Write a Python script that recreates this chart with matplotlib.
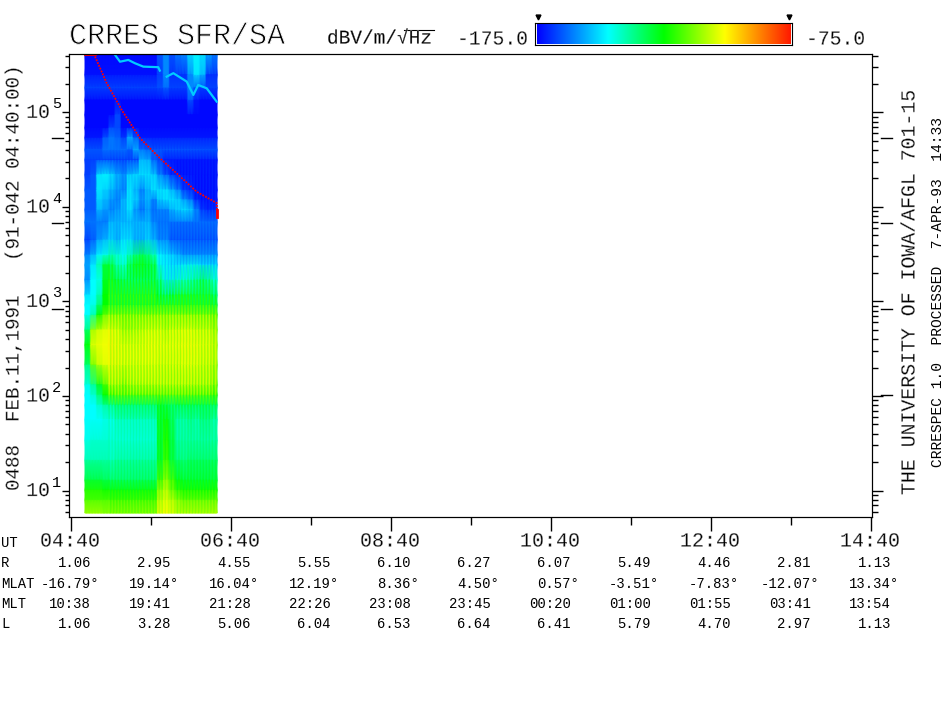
import numpy as np
import matplotlib
matplotlib.use("Agg")
import matplotlib.pyplot as plt
from matplotlib.colors import LinearSegmentedColormap
from matplotlib.lines import Line2D
from matplotlib.ticker import FixedLocator, LogLocator, NullFormatter
import matplotlib.patheffects as pe

plt.rcParams['font.family'] = ['Liberation Mono', 'DejaVu Sans']

W, H = 945, 720

# frequency of each spectrogram row, Hz, top to bottom
freqs = [4.1e5, 2.49e5, 1.82e5, 1.35e5, 9.4e4, 6.85e4, 5.37e4, 4.01e4, 3.14e4, 2.18e4, 1.51e4,
         1.19e4, 9.3e3, 6.9e3, 4.48e3, 3.1e3, 2.43e3, 1.69e3, 1.17e3, 918, 720, 499, 346, 213,
         131, 102, 80, 56, 34, 21, 12.9, 10.1, 7.9, 5.78]

# spectral density in dB, one row per frequency, 22 time blocks
spec_db = [
    [-174,-174,-174,-174,-174,-174,-174,-174,-174,-174,-174,-174,-165,-160,-165,-160,-158,-150,-148,-150,-155,-160],
    [-173,-173,-173,-173,-173,-173,-173,-173,-173,-173,-173,-173,-168,-160,-170,-170,-170,-160,-150,-155,-170,-170],
    [-167,-167,-167,-167,-167,-167,-167,-167,-167,-167,-167,-167,-166,-163,-167,-167,-167,-160,-165,-167,-167,-167],
    [-174,-174,-174,-174,-174,-174,-174,-174,-174,-174,-174,-174,-174,-174,-174,-174,-174,-165,-172,-174,-174,-174],
    [-174,-174,-174,-174,-174,-167,-174,-174,-174,-174,-174,-174,-174,-174,-174,-174,-174,-174,-174,-174,-174,-174],
    [-174,-174,-174,-174,-167,-167,-174,-174,-174,-174,-174,-174,-174,-174,-174,-174,-174,-174,-174,-174,-174,-174],
    [-172,-172,-172,-165,-162,-164,-168,-155,-165,-172,-172,-172,-172,-172,-172,-172,-172,-172,-172,-172,-172,-172],
    [-165,-165,-165,-162,-162,-162,-162,-164,-155,-162,-164,-165,-165,-165,-165,-165,-165,-165,-165,-165,-165,-165],
    [-168,-168,-168,-168,-168,-168,-168,-168,-168,-155,-156,-165,-168,-172,-172,-172,-172,-172,-172,-172,-172,-172],
    [-168,-165,-150,-148,-150,-155,-158,-152,-150,-150,-150,-152,-160,-165,-170,-172,-172,-172,-172,-172,-172,-172],
    [-165,-165,-150,-152,-155,-158,-160,-150,-155,-160,-155,-150,-150,-150,-155,-160,-168,-170,-172,-172,-172,-172],
    [-165,-165,-152,-155,-158,-160,-155,-150,-152,-158,-155,-160,-152,-150,-150,-152,-158,-162,-170,-172,-172,-172],
    [-165,-165,-155,-158,-160,-158,-155,-150,-158,-162,-158,-162,-160,-160,-155,-152,-150,-152,-160,-168,-170,-170],
    [-162,-162,-162,-162,-155,-155,-155,-155,-155,-155,-155,-160,-162,-162,-162,-162,-162,-162,-162,-162,-162,-162],
    [-168,-165,-158,-155,-152,-155,-150,-150,-155,-155,-152,-155,-160,-160,-165,-165,-165,-165,-165,-165,-165,-165],
    [-160,-155,-148,-145,-140,-142,-145,-140,-135,-132,-135,-140,-148,-150,-152,-155,-158,-158,-158,-158,-158,-158],
    [-157,-150,-140,-130,-130,-138,-140,-130,-125,-125,-128,-130,-147,-148,-150,-150,-148,-147,-147,-150,-150,-150],
    [-160,-147,-145,-128,-125,-128,-130,-130,-130,-130,-130,-130,-135,-145,-145,-142,-140,-138,-135,-132,-135,-140],
    [-150,-147,-140,-125,-122,-122,-122,-122,-122,-122,-122,-122,-128,-130,-128,-125,-125,-125,-125,-125,-125,-130],
    [-147,-145,-135,-125,-122,-122,-122,-122,-122,-122,-122,-122,-122,-122,-122,-122,-122,-122,-122,-122,-122,-124],
    [-147,-140,-125,-116,-111,-111,-111,-111,-111,-111,-111,-111,-111,-111,-111,-111,-111,-111,-111,-111,-111,-112],
    [-135,-110,-106,-104,-103,-104,-108,-108,-107,-106,-105,-105,-105,-107,-105,-105,-104,-104,-105,-105,-105,-108],
    [-125,-104,-103,-102,-102,-103,-104,-104,-104,-104,-103,-103,-104,-104,-104,-104,-103,-103,-103,-104,-104,-106],
    [-135,-114,-107,-104,-103,-103,-104,-104,-104,-104,-104,-104,-105,-105,-105,-105,-104,-104,-104,-105,-105,-107],
    [-145,-138,-128,-118,-108,-108,-110,-108,-107,-107,-107,-107,-107,-107,-107,-107,-107,-107,-107,-107,-107,-110],
    [-147,-143,-135,-125,-116,-114,-114,-114,-114,-114,-114,-114,-114,-114,-114,-114,-114,-114,-114,-114,-114,-116],
    [-147,-147,-142,-138,-135,-132,-132,-132,-132,-132,-132,-132,-128,-130,-132,-130,-130,-130,-130,-130,-130,-130],
    [-147,-147,-147,-145,-143,-140,-140,-140,-140,-140,-140,-140,-128,-125,-132,-138,-138,-136,-138,-135,-135,-138],
    [-145,-143,-143,-143,-142,-142,-142,-142,-142,-142,-142,-142,-128,-122,-130,-138,-138,-138,-138,-138,-138,-138],
    [-140,-140,-140,-140,-140,-138,-138,-138,-138,-138,-138,-138,-128,-120,-130,-134,-135,-133,-133,-133,-133,-133],
    [-130,-130,-130,-132,-132,-132,-132,-132,-132,-132,-132,-132,-118,-112,-118,-125,-128,-128,-128,-128,-128,-128],
    [-122,-122,-122,-124,-124,-124,-124,-124,-124,-124,-124,-124,-112,-108,-115,-120,-122,-122,-122,-122,-122,-122],
    [-118,-118,-118,-118,-118,-118,-118,-118,-118,-118,-118,-118,-108,-105,-108,-112,-115,-115,-115,-115,-115,-115],
    [-110,-110,-110,-112,-112,-112,-112,-112,-112,-112,-112,-112,-104,-102,-105,-108,-108,-108,-108,-108,-108,-108],
]

# how deep the sweep striping shows in each row, and the per-sweep offset in dB
row_stripe = [0, 0, 0, 0, 0, 0, 0, .1, .1, .2, .2, .2, .2, .2, .3, .3, .6, .8, 1, 1, 1, .8, .7, .8,
              1, 1, .6, .4, .3, .3, .4, .4, .4, .4]
sweep_db = [0, 0, 0, 0, 0, 0, 0, 0, 0, 0, 0, 0, 0, 0, 0, 0, 3, -8, 3, -8, 3, -8, 3, -8, 3, -8, 3, -8,
            3, -8, 3, -8, 3, -8, 3, -8, 3, -8, 3, -8, 3, -8, 3, -8, 3, -8, 3, -8, 3, -8, 3, -8, 3, -8,
            3, -8, 3, -8, 3, -8, 3, -8, 3, -8, 3, -8, 3, -8, 3, -8, 3, -8, 3, -8, 3, -8, 3, -8, 3, -8,
            3, -8, 3, -8, 3, -8, 3, -8]

# cyan emission line near the top, hours after 04:40 and Hz
line1_h = [.55, .6125, .716, .8, .904, 1.09, 1.11]
line1_f = [4.06e5, 3.44e5, 3.59e5, 3.31e5, 3.05e5, 3.01e5, 2.77e5]
line2_h = [1.196, 1.279, 1.446, 1.529, 1.59, 1.696, 1.821]
line2_f = [2.39e5, 2.6e5, 2.12e5, 1.53e5, 1.95e5, 1.8e5, 1.3e5]

# red gyrofrequency trace
fce_h = [.3, .446, .634, .8625, 1.1125, 1.32, 1.57, 1.821, 1.825]
fce_f = [3.9e5, 2.04e5, 1.06e5, 5.33e4, 3.27e4, 2.27e4, 1.45e4, 1.1e4, 9.3e3]
fce_top_h = [.18, .3]
fce_top_f = [4.12e5, 4.12e5]
fce_end_h = [1.825, 1.825]
fce_end_f = [9.3e3, 7.9e3]

# long detached ticks outside the frame
long_left = [5.37e4, 6.76e3, 834]
long_right = [5.37e4, 6.76e3, 834, 102]

ut_labels = ["04:40", "06:40", "08:40", "10:40", "12:40", "14:40"]
r_vals = ["1.06", "2.95", "4.55", "5.55", "6.10", "6.27", "6.07", "5.49", "4.46", "2.81", "1.13"]
mlat_vals = ["-16.79°", "19.14°", "16.04°", "12.19°", "8.36°", "4.50°", "0.57°", "-3.51°", "-7.83°", "-12.07°", "13.34°"]
mlt_vals = ["10:38", "19:41", "21:28", "22:26", "23:08", "23:45", "00:20", "01:00", "01:55", "03:41", "13:54"]
l_vals = ["1.06", "3.28", "5.06", "6.04", "6.53", "6.64", "6.41", "5.79", "4.70", "2.97", "1.13"]

cmap = LinearSegmentedColormap.from_list("crres", [(0, (0, 0, 1)), (.28, (0, 1, 1)), (.5, (0, 1, 0)),
                                                   (.74, (1, 1, 0)), (1, (1, 0.1, 0))])

fig = plt.figure(figsize=(W / 100, H / 100), dpi=100)
ax = fig.add_axes([69.5 / W, 1 - 517 / H, 802.5 / W, 463.5 / H])

grid = np.repeat(np.array(spec_db, dtype=float), 4, axis=1)
grid = grid + np.outer(row_stripe, sweep_db)
hours = np.linspace(.175, 1.825, grid.shape[1])
ax.pcolormesh(hours, freqs, grid, cmap=cmap, vmin=-175, vmax=-75, shading='gouraud')

ax.plot(line1_h, line1_f, color=(0, .8, 1), lw=1.6)
ax.plot(line2_h, line2_f, color=(0, .8, 1), lw=1.6)
ax.plot(fce_h, fce_f, color='red', lw=1.3, ls=(0, (1, .7)))
ax.plot(fce_top_h, fce_top_f, color='red', lw=2, zorder=5)
ax.plot(fce_end_h, fce_end_f, color='red', lw=2, zorder=5)

ax.set_yscale('log')
ax.set_xlim(-.019, 10.0125)
ax.set_ylim(5.25, 4.2e5)

ax.set_xticks(range(0, 11, 2))
ax.set_xticks(range(1, 11, 2), minor=True)
ax.set_xticklabels([])
ax.tick_params(axis='x', which='major', direction='out', length=10, width=1)
ax.tick_params(axis='x', which='minor', direction='out', length=6, width=1)

ax.yaxis.set_major_locator(FixedLocator([10, 1e2, 1e3, 1e4, 1e5]))
ax.yaxis.set_minor_locator(LogLocator(base=10, subs=range(2, 10), numticks=12))
ax.yaxis.set_major_formatter(NullFormatter())
ax.yaxis.set_minor_formatter(NullFormatter())
ax.tick_params(axis='y', which='major', direction='out', length=4.8, width=1)
ax.tick_params(axis='y', which='minor', direction='out', length=2.9, width=1)

ax2 = ax.twinx()
ax2.set_yscale('log')
ax2.set_ylim(ax.get_ylim())
ax2.yaxis.set_major_locator(FixedLocator([10, 1e2, 1e3, 1e4, 1e5]))
ax2.yaxis.set_minor_locator(LogLocator(base=10, subs=range(2, 10), numticks=12))
ax2.yaxis.set_major_formatter(NullFormatter())
ax2.yaxis.set_minor_formatter(NullFormatter())
ax2.tick_params(axis='y', which='major', direction='out', length=8, width=1)
ax2.tick_params(axis='y', which='minor', direction='out', length=4, width=1)

ytr = ax.get_yaxis_transform()
for f in long_left:
    ax.plot([-.0212, -.0087], [f, f], color='k', lw=1, transform=ytr, clip_on=False)
for f in long_right:
    ax.plot([1.0112, 1.025], [f, f], color='k', lw=1, transform=ytr, clip_on=False)


def put(x, y, s, size, thin=0, **kw):
    kw.setdefault('ha', 'left')
    kw.setdefault('va', 'center')
    t = fig.text(x / W, 1 - y / H, s, fontsize=size, color='k', **kw)
    if thin:
        t.set_path_effects([pe.Normal(), pe.Stroke(linewidth=thin, foreground='white')])
    return t


# decade labels on the left
for e in range(1, 6):
    y = ax.transData.transform((0, 10 ** e))[1]
    put(50, H - y, "10", 14.2, thin=.3, ha='right')
    put(52, H - y - 8, str(e), 11, ha='left')

put(69, 36, "CRRES SFR/SA", 21.6, thin=.7)
put(327, 39, "dBV/m/√Hz", 14, thin=.2)
fig.add_artist(Line2D([404 / W, 434 / W], [1 - 30 / H, 1 - 30 / H], color='k', lw=.8))
put(457, 39, "-175.0", 14.2, thin=.3)
put(806, 39, "-75.0", 14.2, thin=.3)

put(14, 491, "0488  FEB.11,1991   (91-042 04:40:00)", 13.8, thin=.3, rotation=90, ha='center', va='bottom')
put(909, 495, "THE UNIVERSITY OF IOWA/AFGL 701-15", 14.3, thin=.3, rotation=90, ha='center', va='bottom')
put(938, 467, "CRRESPEC 1.0  PROCESSED  7-APR-93  14:33", 10.5, rotation=90, ha='center', va='bottom')

# colour bar
cax = fig.add_axes([535 / W, 1 - 45 / H, 257 / W, 22 / H])
cax.imshow(np.linspace(0, 1, 256)[None, :], cmap=cmap, aspect='auto', extent=[0, 1, 0, 1])
cax.set_xlim(-.006, 1.006)
cax.set_ylim(-.07, 1.07)
cax.set_xticks([])
cax.set_yticks([])
cax.plot([.004, .996], [1.38, 1.38], ls='', marker='v', color='k', ms=3.5, clip_on=False)

# bottom table
put(1, 543, "UT", 10)
for i, s in enumerate(ut_labels):
    put(70 + 160 * i, 541, s, 14.4, thin=.3, ha='center')
rows = [("R", r_vals, 563, 20), ("MLAT", mlat_vals, 584, 28.5), ("MLT", mlt_vals, 604, 20), ("L", l_vals, 624, 20)]
for name, vals, y, off in rows:
    put(1, y, name, 10)
    for i, s in enumerate(vals):
        put(71 + 80 * i + off, y, s, 10, ha='right')

fig.savefig("out.png", dpi=100)
